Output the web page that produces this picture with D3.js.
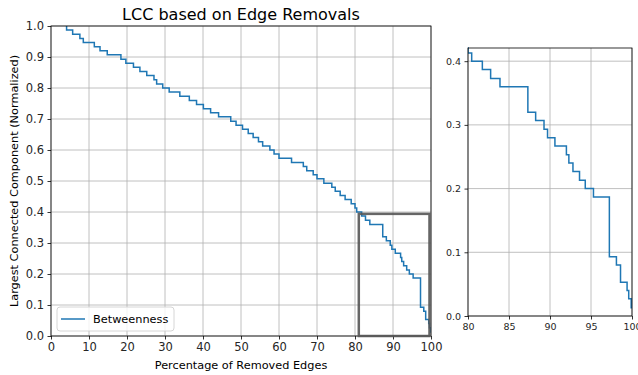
<!DOCTYPE html>
<html lang="en">
  <head>
    <meta charset="utf-8">
    <title>LCC based on Edge Removals</title>
    <script src="https://d3js.org/d3.v7.min.js"></script>
    <style type="text/css">
      body { margin: 0; background: #fff; }
      svg { width: 638px; height: 375px; display: block; }
      text { font-family: "DejaVu Sans", sans-serif; fill: #262626; }
      .title { font-size: 16px; fill: #000; }
      .tick text { font-size: 11.5px; fill: #262626; }
      .inset .tick text { font-size: 9.5px; }
      .label { font-size: 11.3px; fill: #000; }
    </style>
  </head>
  <body>
    <svg></svg>
    <script type="text/javascript">

// percentage of removed edges at which the LCC drops to the next value
const pctRemoved = [4.1, 4.1, 5.7, 7.6, 8.5, 11.4, 12.9, 14.8, 18.4, 19.7, 21.7, 23.4, 25.2, 27.1, 27.8,
  29.4, 31.1, 33.9, 36.4, 38.3, 40.1, 42.0, 44.1, 47.3, 48.7, 50.4, 51.9, 53.2, 54.6, 55.7,
  57.6, 58.7, 60.0, 63.3, 66.4, 67.3, 69.0, 70.0, 71.8, 73.9, 74.8, 76.1, 77.4, 79.0, 80.0,
  80.45, 81.75, 82.76, 83.9, 87.3, 88.25, 89.27, 89.7, 90.6, 92.0, 92.3, 92.8, 93.6, 94.3,
  95.3, 97.24, 98.1, 98.6, 99.4, 99.6, 99.9, 100];
// normalized size of the largest connected component after that step
const lccSize = [1.000, 0.987, 0.973, 0.960, 0.947, 0.933, 0.920, 0.907, 0.893, 0.880, 0.867, 0.853, 0.840, 0.827, 0.813,
  0.800, 0.787, 0.773, 0.760, 0.747, 0.733, 0.720, 0.707, 0.693, 0.680, 0.667, 0.653, 0.640, 0.627, 0.613,
  0.600, 0.587, 0.573, 0.560, 0.547, 0.533, 0.520, 0.507, 0.493, 0.480, 0.467, 0.453, 0.440, 0.427, 0.413,
  0.400, 0.387, 0.373, 0.360, 0.320, 0.307, 0.293, 0.280, 0.267, 0.253, 0.240, 0.227, 0.213, 0.200,
  0.187, 0.093, 0.080, 0.053, 0.040, 0.027, 0.013, 0.013];

const mainXTicks = [0, 10, 20, 30, 40, 50, 60, 70, 80, 90, 100];
const mainYTicks = [0, 0.1, 0.2, 0.3, 0.4, 0.5, 0.6, 0.7, 0.8, 0.9, 1.0];
const insetXTicks = [80, 85, 90, 95, 100];
const insetYTicks = [0, 0.1, 0.2, 0.3, 0.4];
const zoomBox = {x0: 81, x1: 99.6, y0: 0, y1: 0.394};

const data = pctRemoved.map((p, i) => ({p: p, v: lccSize[i]}));
const svg = d3.select("svg");
const lineColor = "#1f77b4";

function drawPanel(opts) {
  const x = d3.scaleLinear().domain(opts.xDomain).range([opts.left, opts.right]);
  const y = d3.scaleLinear().domain(opts.yDomain).range([opts.bottom, opts.top]);
  const g = svg.append("g").attr("class", opts.cls);

  // grid
  g.append("g").selectAll("line").data(opts.xTicks).enter().append("line")
    .attr("x1", d => x(d)).attr("x2", d => x(d))
    .attr("y1", opts.top).attr("y2", opts.bottom)
    .attr("stroke", "#b0b0b0").attr("stroke-width", 0.8);
  g.append("g").selectAll("line").data(opts.yTicks).enter().append("line")
    .attr("y1", d => y(d)).attr("y2", d => y(d))
    .attr("x1", opts.left).attr("x2", opts.right)
    .attr("stroke", "#b0b0b0").attr("stroke-width", 0.8);

  const clipId = "clip-" + opts.cls;
  svg.append("clipPath").attr("id", clipId).append("rect")
    .attr("x", opts.left).attr("y", opts.top - 1)
    .attr("width", opts.right - opts.left).attr("height", opts.bottom - opts.top + 1);

  const line = d3.line().x(d => x(d.p)).y(d => y(d.v)).curve(d3.curveStepAfter);
  g.append("path").datum(data)
    .attr("clip-path", "url(#" + clipId + ")")
    .attr("d", line)
    .attr("fill", "none")
    .attr("stroke", lineColor)
    .attr("stroke-width", 1.5);

  // axes
  const xAxis = d3.axisBottom(x).tickValues(opts.xTicks).tickFormat(d3.format("d"))
    .tickSizeOuter(0).tickSize(3.5).tickPadding(3.5);
  const yAxis = d3.axisLeft(y).tickValues(opts.yTicks).tickFormat(d3.format(".1f"))
    .tickSizeOuter(0).tickSize(3.5).tickPadding(3.5);
  g.append("g").attr("transform", "translate(0," + opts.bottom + ")").call(xAxis)
    .call(a => a.select(".domain").remove());
  g.append("g").attr("transform", "translate(" + opts.left + ",0)").call(yAxis)
    .call(a => a.select(".domain").remove());
  g.selectAll(".tick line").attr("stroke", "#000").attr("stroke-width", 0.8);
  g.selectAll(".tick text").attr("font-family", null).attr("font-size", null);

  // spines
  g.append("rect")
    .attr("x", opts.left).attr("y", opts.top)
    .attr("width", opts.right - opts.left).attr("height", opts.bottom - opts.top)
    .attr("fill", "none").attr("stroke", "#000").attr("stroke-width", 0.8);

  return {x: x, y: y, g: g};
}

const main = drawPanel({cls: "main", left: 51, right: 431, top: 26, bottom: 336,
  xDomain: [0, 100], yDomain: [0, 1], xTicks: mainXTicks, yTicks: mainYTicks});

const inset = drawPanel({cls: "inset", left: 468, right: 632, top: 48, bottom: 316,
  xDomain: [80, 100], yDomain: [0, 0.4207], xTicks: insetXTicks, yTicks: insetYTicks});

// zoom indicator box
main.g.append("rect")
  .attr("x", main.x(zoomBox.x0)).attr("y", main.y(zoomBox.y1))
  .attr("width", main.x(zoomBox.x1) - main.x(zoomBox.x0))
  .attr("height", main.y(zoomBox.y0) - main.y(zoomBox.y1))
  .attr("fill", "none").attr("stroke", "#555").attr("stroke-opacity", 0.9)
  .attr("stroke-width", 2.5);

// titles and labels
svg.append("text").attr("class", "title")
  .attr("x", 241).attr("y", 20).attr("text-anchor", "middle")
  .text("LCC based on Edge Removals");

svg.append("text").attr("class", "label")
  .attr("x", 241).attr("y", 369).attr("text-anchor", "middle")
  .text("Percentage of Removed Edges");

svg.append("text").attr("class", "label")
  .attr("transform", "translate(18,181) rotate(-90)")
  .attr("text-anchor", "middle")
  .text("Largest Connected Component (Normalized)");

// legend
const legend = svg.append("g").attr("transform", "translate(57,307)");
legend.append("rect")
  .attr("width", 117).attr("height", 24).attr("rx", 3)
  .attr("fill", "#fff").attr("fill-opacity", 0.8)
  .attr("stroke", "#ccc").attr("stroke-width", 0.8);
legend.append("line")
  .attr("x1", 4).attr("x2", 28).attr("y1", 12).attr("y2", 12)
  .attr("stroke", lineColor).attr("stroke-width", 1.5);
legend.append("text").attr("class", "label")
  .attr("x", 36).attr("y", 16)
  .text("Betweenness");

    </script>
  </body>
</html>
